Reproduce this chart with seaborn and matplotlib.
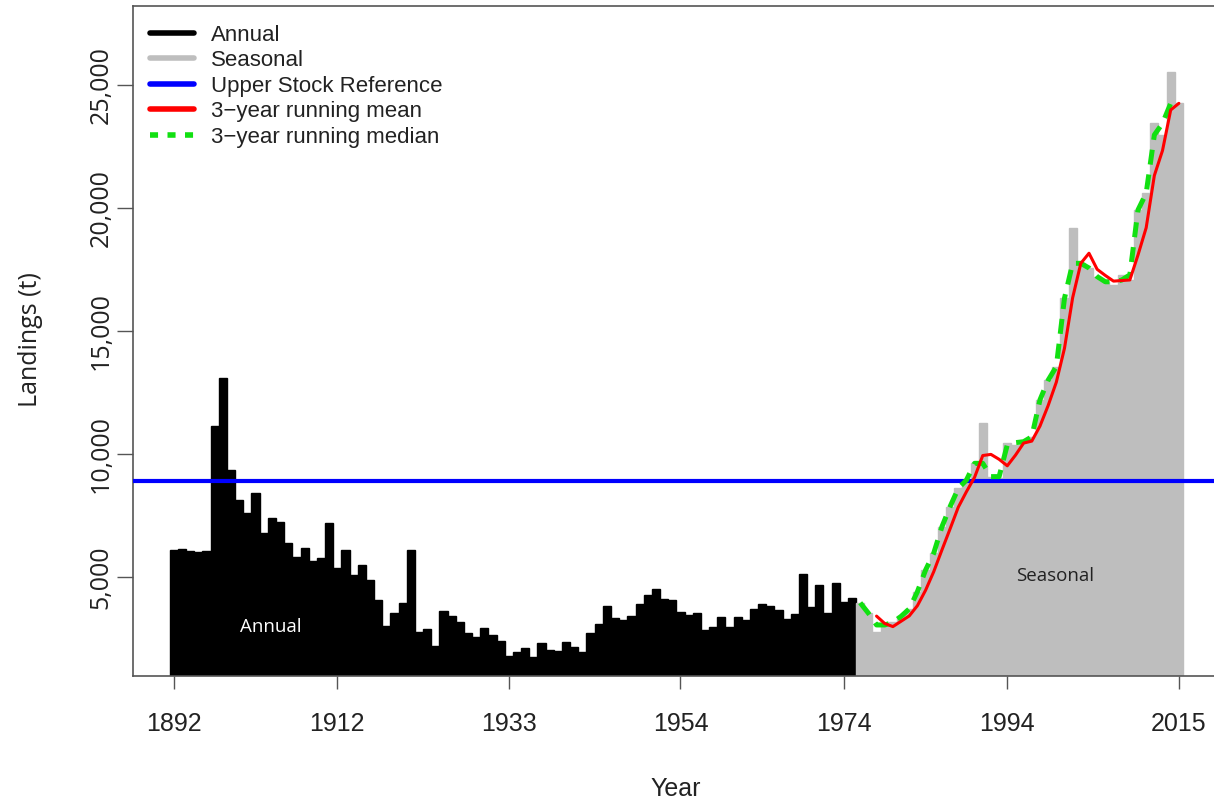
import numpy as np
import pandas as pd
import matplotlib
matplotlib.use('Agg')
import matplotlib.pyplot as plt
from matplotlib.lines import Line2D
import seaborn as sns

# Annual landings (t), 1892-1975
annual_years = list(range(1892, 1976))
annual_landings = [
    6100, 6150, 6050, 6000, 6050, 11150, 13100, 9350, 8130, 7600,
    8430, 6800, 7380, 7240, 6370, 5830, 6170, 5660, 5760, 7180,
    5350, 6100, 5080, 5490, 4880, 4070, 3010, 3520, 3960, 6100,
    2780, 2880, 2200, 3620, 3430, 3160, 2720, 2570, 2920, 2640,
    2410, 1790, 1960, 2130, 1760, 2310, 2030, 2000, 2370, 2170,
    1960, 2710, 3090, 3820, 3320, 3250, 3410, 3900, 4270, 4500,
    4090, 4065, 3590, 3455, 3550, 2845, 2950, 3390, 2980, 3360,
    3250, 3690, 3900, 3820, 3660, 3280, 3500, 5120, 3770, 4675,
    3550, 4740, 4000, 4130,
]

# Seasonal landings (t), 1976-2015
seasonal_years = list(range(1976, 2016))
seasonal_landings = [
    3950, 3530, 2750, 3050, 3150, 3400, 3700, 4400, 5280, 5970,
    7040, 7860, 8600, 8940, 9620, 11250, 9080, 9020, 10460, 10370,
    10500, 10700, 12200, 13000, 13550, 16330, 19170, 17750, 17560, 17210,
    17000, 16870, 17280, 17070, 19920, 20600, 23440, 22970, 25540, 24250,
]

upper_stock_ref = 8890
xtick_years = [1892, 1912, 1933, 1954, 1974, 1994, 2015]
ytick_values = [5000, 10000, 15000, 20000, 25000]
legend_labels = ['Annual', 'Seasonal', 'Upper Stock Reference',
                 '3\u2212year running mean', '3\u2212year running median']

annual = pd.DataFrame({'Year': annual_years, 'Landings': annual_landings})
seasonal = pd.DataFrame({'Year': seasonal_years, 'Landings': seasonal_landings})
# trailing 3-year mean, centred 3-year median (ends kept)
seasonal['mean3'] = seasonal['Landings'].rolling(3).mean()
seasonal['median3'] = seasonal['Landings'].rolling(3, center=True).median().fillna(seasonal['Landings'])

sns.set_style('white')
plt.rcParams['font.family'] = ['Liberation Sans', 'DejaVu Sans']

W, H = 1214, 801
fig = plt.figure(figsize=(W / 100, H / 100), dpi=100)
ax = fig.add_axes([133 / W, (H - 676) / H, 1 - 133 / W, (676 - 6) / H])

sns.barplot(data=annual, x='Year', y='Landings', native_scale=True, width=1,
            color='black', saturation=1, errorbar=None,
            linewidth=1.0, edgecolor='black', ax=ax)
sns.barplot(data=seasonal, x='Year', y='Landings', native_scale=True, width=1,
            color='#bebebe', saturation=1, errorbar=None,
            linewidth=1.0, edgecolor='#bebebe', ax=ax)

ax.axhline(upper_stock_ref, color='#0000ff', lw=3, zorder=3)

sns.lineplot(data=seasonal, x='Year', y='median3', color='#11e011', lw=3.6,
             linestyle=(0, (3, 2)), ax=ax, zorder=4)
sns.lineplot(data=seasonal, x='Year', y='mean3', color='#ff0000', lw=2.2,
             ax=ax, zorder=5)

ax.set_xlim(1887.0, 2019.3)
ax.set_ylim(975, 28210)

ax.set_xticks(xtick_years)
ax.set_xticklabels([str(y) for y in xtick_years])
ax.set_yticks(ytick_values)
ax.set_yticklabels([f'{v:,}' for v in ytick_values])

ax.tick_params(axis='x', bottom=True, length=9, width=1, color='#555555',
               pad=17, labelsize=18, labelcolor='#222222')
ax.tick_params(axis='y', left=True, length=11.5, width=1, color='#555555',
               pad=2.5, labelsize=18, labelcolor='#222222', labelrotation=90)
for lab in ax.get_yticklabels():
    lab.set_fontfamily('Open Sans')
    lab.set_va('center')

for side in ['left', 'bottom', 'top']:
    ax.spines[side].set_color('#555555')
    ax.spines[side].set_linewidth(1.2)
ax.spines['right'].set_visible(False)

ax.set_xlabel('Year', fontsize=18, color='#222222')
ax.xaxis.set_label_coords(0.502, -0.150)
ax.set_ylabel('Landings (t)', fontsize=18, color='#222222', family='Open Sans')
ax.yaxis.set_label_coords(-0.0835, 0.5015)

ax.text(1903.8, 2970, 'Annual', color='white', ha='center', va='center',
        fontsize=13.5, family='Open Sans')
ax.text(1999.8, 5040, 'Seasonal', color='#222222', ha='center', va='center',
        fontsize=13.5, family='Open Sans')

handles = [
    Line2D([], [], color='black', lw=4),
    Line2D([], [], color='#bebebe', lw=4),
    Line2D([], [], color='#0000ff', lw=4),
    Line2D([], [], color='#ff0000', lw=4),
    Line2D([], [], color='#11e011', lw=4, linestyle=(0, (1.45, 1.7))),
]
leg = ax.legend(handles, legend_labels, loc='upper left',
                bbox_to_anchor=(0.0157, 0.972), frameon=False, fontsize=16,
                handlelength=2.0, handletextpad=0.75, labelspacing=0.2,
                borderaxespad=0, borderpad=0)
for t in leg.get_texts():
    t.set_color('#222222')

fig.savefig('out.png', dpi=100)
